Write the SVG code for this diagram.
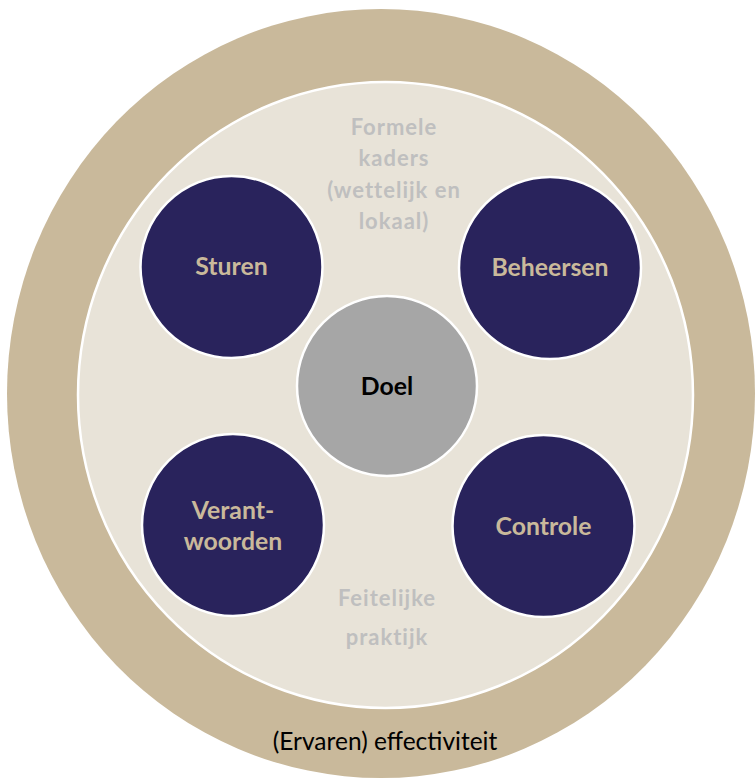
<svg xmlns="http://www.w3.org/2000/svg" width="755" height="778" viewBox="0 0 755 778">
<style>
.ring{fill:#c9b99b}
.inner{fill:#e8e3d8;stroke:#ffffff;stroke-width:2.5}
.dark{fill:#29235c;stroke:#ffffff;stroke-width:2.5}
.core{fill:#a6a6a6;stroke:#ffffff;stroke-width:2.5}
.lbl{font-family:Lato,"Open Sans","Liberation Sans",sans-serif;font-weight:bold;font-size:24.8px;fill:#c9b99b;text-anchor:middle}
.gray{font-family:Lato,"Open Sans","Liberation Sans",sans-serif;font-weight:bold;font-size:22px;fill:#bfbfbf;text-anchor:middle;letter-spacing:1px}
.black{font-family:Lato,"Open Sans","Liberation Sans",sans-serif;font-size:24.5px;fill:#000000;text-anchor:middle}
</style>
<rect width="755" height="778" fill="#ffffff"/>
<g id="outer">
<ellipse class="ring" cx="381" cy="393.5" rx="374" ry="384.5"/>
<text class="black" x="385" y="750">(Ervaren) effectiviteit</text>
</g>
<g id="inner">
<ellipse class="inner" cx="385.5" cy="395" rx="307.5" ry="313"/>
<text class="gray" x="394" y="135">Formele</text>
<text class="gray" x="394" y="166">kaders</text>
<text class="gray" x="394" y="198">(wettelijk en</text>
<text class="gray" x="394" y="229">lokaal)</text>
<text class="gray" x="387" y="606">Feitelijke</text>
<text class="gray" x="387" y="645">praktijk</text>
</g>
<g id="connectors"></g>
<g id="sturen">
<circle class="dark" cx="231.5" cy="267" r="91"/>
<text class="lbl" x="231.5" y="275">Sturen</text>
</g>
<g id="beheersen">
<circle class="dark" cx="550" cy="268" r="91"/>
<text class="lbl" x="550" y="276">Beheersen</text>
</g>
<g id="verantwoorden">
<circle class="dark" cx="233" cy="525" r="91"/>
<text class="lbl" x="233" y="519">Verant-</text>
<text class="lbl" x="233" y="550">woorden</text>
</g>
<g id="controle">
<circle class="dark" cx="543.5" cy="526" r="91"/>
<text class="lbl" x="543.5" y="535">Controle</text>
</g>
<g id="doel">
<circle class="core" cx="387" cy="386" r="90"/>
<text class="lbl" x="387" y="395" style="fill:#000000">Doel</text>
</g>
</svg>
